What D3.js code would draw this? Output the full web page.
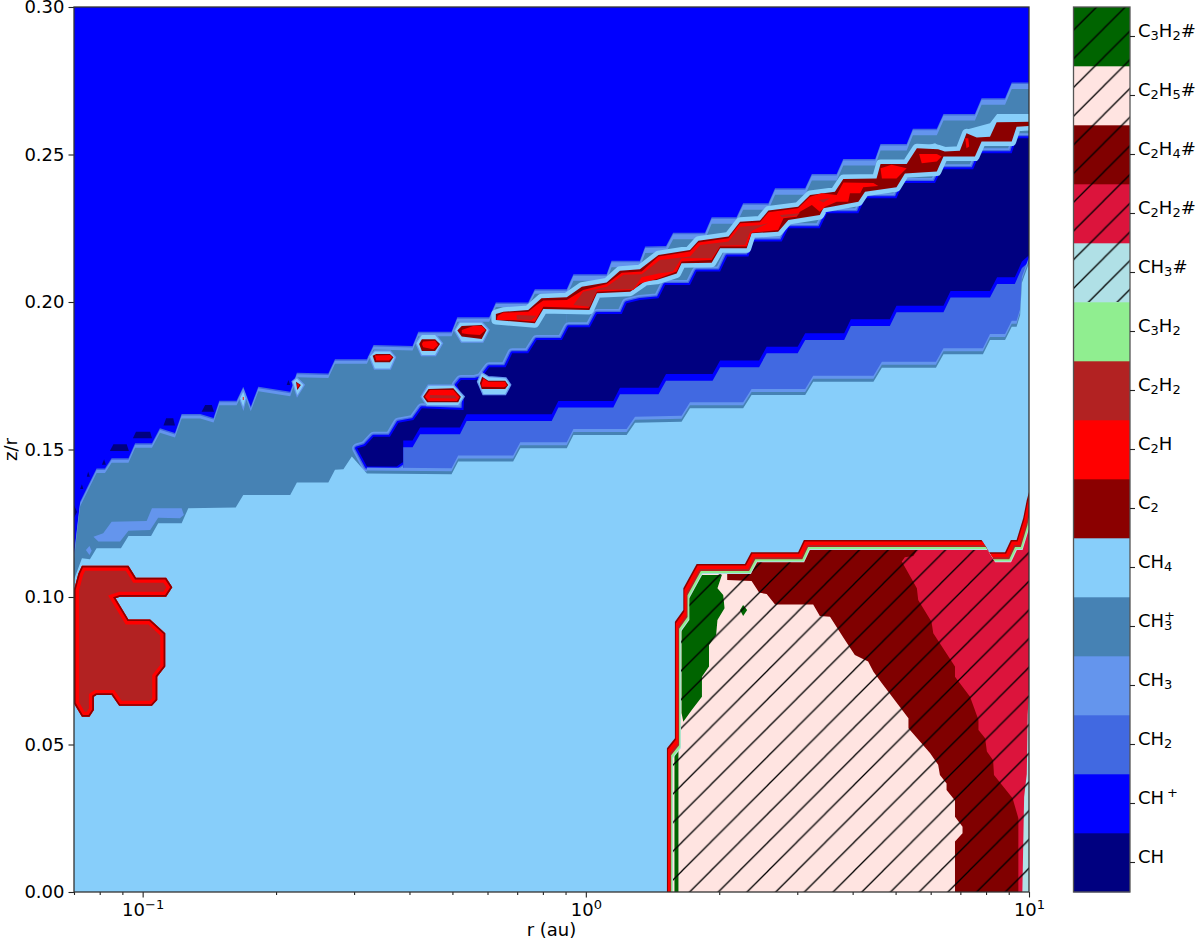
<!DOCTYPE html>
<html>
<head>
<meta charset="utf-8">
<script src="https://cdnjs.cloudflare.com/ajax/libs/d3/7.8.5/d3.min.js"></script>
<style>
body{margin:0;background:#fff;}
text{font-family:"DejaVu Sans",sans-serif;fill:#000;}
</style>
</head>
<body>
<div id="viz"></div>
<script>
// colorbar, bottom to top
var species=["CH","CH+","CH2","CH3","CH3+","CH4","C2","C2H","C2H2","C3H2","CH3#","C2H2#","C2H4#","C2H5#","C3H2#"];
var speciesColors=["#000080","#0000ff","#4169e1","#6495ed","#4682b4","#87cefa","#8b0000","#ff0000","#b22222","#90ee90","#b0e0e6","#dc143c","#800000","#ffe4e1","#006400"];
var xMajor=[0.1,1,10];
var xMinor=[0.07,0.08,0.09,0.2,0.3,0.4,0.5,0.6,0.7,0.8,0.9,2,3,4,5,6,7,8,9];
var yTicks=[0,0.05,0.1,0.15,0.2,0.25,0.3];

// all outlines are [log10 r, z/r]
var steelTop=[[-1.155,.1142],[-1.146,.1261],[-1.141,.1323],[-1.104,.1436],[-1.085,.1436],[-1.070,.1470],[-1.032,.1470],[-1.017,.1521],[-.979,.1521],[-.961,.1572],[-.927,.1556],[-.912,.1620],[-.870,.1620],[-.840,.1607],[-.827,.1665],[-.788,.1665],[-.773,.1713],[-.756,.1645],[-.739,.1713],[-.667,.1696],[-.652,.1760],[-.581,.1758],[-.566,.1806],[-.494,.1806],[-.479,.1854],[-.391,.1851],[-.378,.1899],[-.303,.1899],[-.290,.1948],[-.218,.1948],[-.203,.1998],[-.130,.1998],[-.115,.2043],[-.043,.2043],[-.028,.2094],[.047,.2094],[.058,.2140],[.122,.2140],[.134,.2188],[.181,.2190],[.197,.2235],[.269,.2235],[.284,.2287],[.340,.2287],[.355,.2335],[.412,.2335],[.427,.2386],[.495,.2386],[.510,.2434],[.566,.2434],[.581,.2485],[.653,.2485],[.665,.2536],[.724,.2536],[.738,.2587],[.792,.2587],[.807,.2637],[.878,.2637],[.893,.2691],[.946,.2691],[.961,.2744],[1,.2744]];

var ch4Top=[[-1.155,.1058],[-1.137,.1131],[-1.119,.1128],[-1.104,.1165],[-1.049,.1165],[-1.032,.1207],[-.981,.1207],[-.965,.1250],[-.912,.1250],[-.897,.1301],[-.790,.1303],[-.773,.1346],[-.667,.1346],[-.652,.1388],[-.581,.1388],[-.566,.1431],[-.547,.1433],[-.528,.1476],[-.494,.1419],[-.303,.1416],[-.288,.1459],[-.164,.1459],[-.148,.1504],[-.043,.1504],[-.028,.1549],[.092,.1549],[.111,.1591],[.216,.1594],[.235,.1640],[.355,.1640],[.374,.1685],[.495,.1685],[.513,.1730],[.649,.1730],[.668,.1777],[.790,.1777],[.807,.1823],[.896,.1823],[.912,.1871],[.946,.1871],[.961,.1916],[.972,.1916],[.980,.1956],[.984,.2065],[1,.2132]];

var navyArea=[[-.516,.1504],[-.498,.1512],[-.479,.1543],[-.442,.1543],[-.423,.1591],[-.389,.1600],[-.370,.1640],[-.276,.1634],[-.275,.1668],[-.291,.1719],[-.282,.1736],[-.250,.1736],[-.236,.1742],[-.224,.1767],[-.218,.1779],[-.181,.1779],[-.166,.1826],[-.130,.1826],[-.111,.1871],[-.054,.1871],[-.039,.1914],[.009,.1914],[.025,.1959],[.081,.1959],[.092,.1996],[.122,.2007],[.164,.2013],[.179,.2058],[.235,.2058],[.250,.2103],[.303,.2103],[.319,.2154],[.367,.2154],[.378,.2205],[.442,.2205],[.457,.2250],[.528,.2250],[.544,.2301],[.615,.2301],[.630,.2352],[.701,.2352],[.716,.2403],[.788,.2403],[.803,.2450],[.874,.2450],[.889,.2504],[.961,.2504],[.972,.2555],[1,.2555],[1,.2041],[-.410,.1458],[-.415,.1455],[-.427,.1442],[-.494,.1442]];

var royalTop=[[-.412,.1508],[-.391,.1508],[-.374,.1552],[-.284,.1552],[-.269,.1597],[-.077,.1597],[-.062,.1642],[.062,.1642],[.077,.1687],[.164,.1687],[.181,.1733],[.286,.1733],[.303,.1779],[.391,.1779],[.408,.1826],[.478,.1826],[.495,.1871],[.583,.1871],[.598,.1919],[.686,.1919],[.701,.1965],[.807,.1965],[.823,.2015],[.912,.2015],[.928,.2061],[.968,.2061],[.984,.2115],[1,.2136]];

var cornflowerSpots=[
 [[-1.111,.1204],[-1.089,.1216],[-1.070,.1255],[-.991,.1258],[-.979,.1301],[-.912,.1301],[-.907,.1278],[-.916,.1267],[-.965,.1269],[-.983,.1227],[-1.032,.1225],[-1.051,.1188],[-1.100,.1188]],
 [[-1.128,.1159],[-1.120,.1173],[-1.115,.1157],[-1.120,.1142]]
];
var navySpots=[
 [[-1.074,.1495],[-1.066,.1518],[-1.036,.1518],[-1.031,.1495]],
 [[-1.022,.1538],[-1.015,.1560],[-.983,.1560],[-.979,.1538]],
 [[-.953,.1581],[-.947,.1606],[-.931,.1606],[-.927,.1581]],
 [[-.867,.1628],[-.859,.1651],[-.844,.1651],[-.839,.1628]],
 [[-1.092,.1448],[-1.087,.1467],[-1.083,.1448]],
 [[-1.126,.1408],[-1.123,.1425],[-1.119,.1408]],
 [[-1.141,.1366],[-1.137,.1382],[-1.134,.1366]],
 [[-.675,.1719],[-.671,.1736],[-.667,.1719]],
 [[-1.155,.1268],[-1.155,.1312],[-1.148,.1288]]
];

// little C2/C2H pockets along the ridge: light edge, dark edge, core
var pocketsLight=[
 [[-.780,.1674],[-.773,.1696],[-.768,.1674],[-.773,.1645]],
 [[-.661,.1730],[-.652,.1741],[-.637,.1719],[-.651,.1685]],
 [[-.487,.1815],[-.476,.1832],[-.442,.1832],[-.431,.1813],[-.442,.1775],[-.476,.1775]],
 [[-.382,.1860],[-.370,.1888],[-.340,.1888],[-.325,.1860],[-.340,.1820],[-.370,.1820]],
 [[-.295,.1903],[-.284,.1930],[-.235,.1930],[-.220,.1905],[-.233,.1866],[-.280,.1866]],
 [[-.370,.1679],[-.355,.1716],[-.299,.1716],[-.276,.1679],[-.288,.1651],[-.358,.1651]],
 [[-.243,.1730],[-.235,.1758],[-.220,.1745],[-.181,.1741],[-.171,.1719],[-.182,.1688],[-.231,.1688]]
];
var pocketsDark=[
 [[-.654,.1730],[-.643,.1719],[-.651,.1702]],
 [[-.481,.1818],[-.473,.1824],[-.442,.1824],[-.434,.1813],[-.442,.1796],[-.476,.1796]],
 [[-.376,.1858],[-.370,.1874],[-.340,.1874],[-.329,.1858],[-.340,.1834],[-.370,.1834]],
 [[-.290,.1903],[-.280,.1919],[-.235,.1922],[-.224,.1905],[-.235,.1875],[-.280,.1883]],
 [[-.367,.1679],[-.355,.1705],[-.299,.1708],[-.282,.1679],[-.288,.1660],[-.358,.1660]],
 [[-.239,.1725],[-.234,.1747],[-.220,.1733],[-.182,.1733],[-.175,.1719],[-.182,.1705],[-.235,.1705]]
];
var pocketsRed=[
 [[-.774,.1678],[-.772,.1678],[-.772,.1668],[-.774,.1668]],
 [[-.651,.1725],[-.646,.1719],[-.651,.1708]],
 [[-.476,.1819],[-.442,.1820],[-.437,.1813],[-.444,.1802],[-.473,.1802]],
 [[-.370,.1858],[-.367,.1866],[-.340,.1869],[-.333,.1854],[-.344,.1840],[-.367,.1847]],
 [[-.280,.1905],[-.254,.1919],[-.235,.1919],[-.226,.1905],[-.239,.1888],[-.265,.1891],[-.280,.1894]],
 [[-.363,.1679],[-.352,.1702],[-.299,.1702],[-.285,.1677],[-.291,.1664],[-.355,.1664]],
 [[-.235,.1725],[-.231,.1741],[-.220,.1730],[-.182,.1730],[-.178,.1716],[-.185,.1711],[-.235,.1713]]
];
var pocketCore=[[-.352,.1685],[-.295,.1683],[-.291,.1673],[-.352,.1675]];

var leftPocket=[[-1.155,.1024],[-1.145,.1080],[-1.137,.1106],[-1.032,.1106],[-1.015,.1065],[-.947,.1065],[-.933,.1033],[-.947,.1001],[-1.051,.1001],[-1.061,.0996],[-1.032,.0924],[-.983,.0924],[-.949,.0877],[-.949,.0764],[-.967,.0730],[-.967,.0651],[-.979,.0631],[-1.053,.0631],[-1.070,.0668],[-1.104,.0668],[-1.110,.0662],[-1.110,.0617],[-1.120,.0594],[-1.137,.0594],[-1.153,.0634],[-1.155,.0641]];

var ridgeDark=[[-.203,.1959],[-.186,.1967],[-.130,.1973],[-.100,.2013],[-.043,.2016],[-.009,.2052],[.047,.2066],[.077,.2106],[.122,.2111],[.164,.2159],[.235,.2176],[.254,.2208],[.322,.2222],[.348,.2272],[.393,.2276],[.412,.2310],[.479,.2323],[.506,.2363],[.562,.2374],[.581,.2417],[.656,.2419],[.665,.2468],[.724,.2468],[.747,.2521],[.795,.2518],[.810,.2510],[.844,.2513],[.859,.2572],[.882,.2558],[.912,.2560],[.927,.2609],[1,.2611],[1,.2597],[.972,.2594],[.961,.2544],[.893,.2544],[.878,.2493],[.807,.2493],[.792,.2442],[.720,.2436],[.701,.2389],[.630,.2374],[.615,.2340],[.536,.2318],[.528,.2295],[.457,.2278],[.434,.2238],[.374,.2233],[.363,.2182],[.303,.2182],[.284,.2133],[.216,.2131],[.205,.2097],[.160,.2075],[.134,.2071],[.122,.2058],[.100,.2035],[.025,.2030],[.008,.1973],[-.096,.1976],[-.115,.1928],[-.203,.1939]];
var ridgeRed=[[-.199,.1953],[-.186,.1964],[-.130,.1967],[-.111,.1990],[-.096,.2005],[-.043,.2007],[-.006,.2041],[.047,.2061],[.081,.2099],[.126,.2103],[.164,.2154],[.235,.2171],[.254,.2202],[.322,.2216],[.348,.2267],[.393,.2270],[.412,.2304],[.479,.2318],[.506,.2357],[.532,.2369],[.566,.2363],[.581,.2405],[.649,.2403],[.660,.2393],[.626,.2389],[.619,.2369],[.596,.2369],[.592,.2340],[.566,.2340],[.540,.2323],[.528,.2306],[.510,.2329],[.483,.2306],[.476,.2289],[.446,.2284],[.434,.2244],[.374,.2235],[.363,.2188],[.303,.2188],[.284,.2142],[.216,.2137],[.205,.2103],[.164,.2080],[.122,.2063],[.107,.2041],[.025,.2035],[.006,.1979],[-.096,.1984],[-.115,.1933],[-.164,.1939],[-.201,.1939]];
var ridgeRedSpots=[
 [[.665,.2453],[.690,.2465],[.724,.2453],[.701,.2419],[.668,.2419]],
 [[.752,.2502],[.792,.2502],[.803,.2493],[.792,.2476],[.758,.2470]],
 [[.856,.2555],[.863,.2555],[.865,.2527],[.859,.2521]]
];
var ridgeBrown=[
 [[-.028,.1990],[-.006,.2035],[.047,.2052],[.085,.2092],[.126,.2094],[.167,.2142],[.235,.2154],[.258,.2193],[.322,.2205],[.348,.2255],[.393,.2261],[.412,.2267],[.378,.2244],[.370,.2235],[.359,.2193],[.303,.2191],[.284,.2148],[.216,.2148],[.197,.2103],[.164,.2097],[.126,.2084],[.107,.2043],[.025,.2041],[.009,.1984]],
 [[.438,.2295],[.483,.2301],[.476,.2293],[.442,.2287]],
 [[.525,.2346],[.551,.2352],[.536,.2337]],
 [[-.156,.1956],[-.111,.1953],[-.122,.1939],[-.156,.1941]]
];
var ridgeLight=[
 [[.844,.2515],[.856,.2583],[.912,.2606],[.928,.2637],[1,.2637],[1,.2607],[.927,.2607],[.912,.2558],[.878,.2558],[.859,.2572]],
 [[.747,.2521],[.788,.2538],[.807,.2521],[.844,.2521],[.844,.2509],[.747,.2509]]
];

// the hatched ice block, bottom right
var iceBlock=[[.183,0],[.183,.0487],[.201,.0521],[.201,.0916],[.220,.0956],[.220,.1030],[.250,.1112],[.359,.1112],[.373,.1152],[.479,.1152],[.492,.1193],[.893,.1193],[.910,.1152],[.946,.1152],[.959,.1193],[.972,.1193],[.987,.1268],[.995,.1329],[1,.1356],[1,0]];
var crimsonIce=[[.698,.1193],[1,.1363],[1,0],[.901,0],[.777,.0719],[.709,.0990]];
var maroonIce=[[.319,.1092],[.337,.1176],[.747,.1176],[.747,.1159],[.739,.1139],[.720,.1135],[.713,.1120],[.747,.1030],[.750,.0990],[.780,.0916],[.784,.0877],[.833,.0764],[.833,.0730],[.867,.0662],[.886,.0583],[.886,.0549],[.901,.0521],[.905,.0476],[.919,.0447],[.921,.0397],[.963,.0318],[.976,.0250],[.976,0],[.833,0],[.833,.0171],[.850,.0199],[.850,.0221],[.833,.0255],[.833,.0310],[.814,.0346],[.814,.0368],[.799,.0397],[.795,.0431],[.777,.0470],[.728,.0555],[.728,.0589],[.668,.0708],[.649,.0747],[.637,.0781],[.607,.0803],[.581,.0863],[.551,.0933],[.528,.0936],[.513,.0975],[.427,.0975],[.408,.1010],[.391,.1015],[.374,.1054],[.319,.1058]];
var greenIce=[
 [[.250,.1075],[.307,.1075],[.297,.1030],[.310,.1007],[.313,.0962],[.297,.0922],[.294,.0871],[.278,.0837],[.278,.0764],[.262,.0730],[.262,.0662],[.239,.0617],[.220,.0577],[.216,.0607],[.216,.0888],[.231,.0945],[.235,.1041]],
 [[.348,.0956],[.355,.0973],[.364,.0956],[.355,.0936]],
 [[.200,.0487],[.209,.0487],[.209,0],[.200,0]]
];
var paleIce=[[1,.0685],[.997,.0600],[.995,.0400],[.989,.0322],[.985,0],[1,0]];

var svg=d3.select("#viz").append("svg").attr("width",1200).attr("height",942).style("display","block");
var defs=svg.append("defs");

var x=d3.scaleLog().domain([0.07,10]).range([74,1029]);
var y=d3.scaleLinear().domain([0,0.3]).range([892,7]);
var color=d3.scaleOrdinal().domain(species).range(speciesColors);

var line=d3.line().x(function(d){return x(Math.pow(10,d[0]));}).y(function(d){return y(d[1]);});
var area=d3.area().x(function(d){return x(Math.pow(10,d[0]));}).y0(y(0)).y1(function(d){return y(d[1]);});
function closed(d){return line(d)+"Z";}

defs.append("clipPath").attr("id","plotClip").append("rect").attr("x",74).attr("y",7).attr("width",955).attr("height",885);

// matplotlib style "/" hatch
function hatchPattern(id,shift){
  var s=28.7;
  var p=defs.append("pattern").attr("id",id).attr("patternUnits","userSpaceOnUse")
    .attr("width",s).attr("height",s).attr("patternTransform","translate("+shift+",0)");
  p.append("path").attr("d","M-4,"+(s+4)+"L"+(s+4)+",-4M-4,4L4,-4M"+(s-4)+","+(s+4)+"L"+(s+4)+","+(s-4))
    .attr("stroke","#000").attr("stroke-width",1.3).attr("fill","none");
}
hatchPattern("hatch",15.8);
hatchPattern("hatchBar",13);

var plot=svg.append("g").attr("clip-path","url(#plotClip)");
plot.append("rect").attr("x",74).attr("y",7).attr("width",955).attr("height",885).attr("fill",color("CH+"));

function shape(parent,d,fill,dx,dy){
  return parent.append("path").attr("d",closed(d)).attr("fill",fill)
    .attr("transform","translate("+(dx||0)+","+(dy||0)+")");
}
function band(d,fill,dy){
  return plot.append("path").attr("d",area(d)).attr("fill",fill).attr("transform","translate(0,"+(dy||0)+")");
}

// CH3+ ridge with its thin contour strips, the strip gets wider towards large r
band(steelTop,color("CH2"),0);
band(steelTop,color("CH3"),1.5);
band(steelTop.filter(function(d){return d[0]<=-0.043;}),color("CH3+"),4.5);
band(steelTop.filter(function(d){return d[0]>=-0.043;}),color("CH3+"),6.5);
cornflowerSpots.forEach(function(d){shape(plot,d,color("CH3"));});
navySpots.forEach(function(d){shape(plot,d,color("CH"));});

// CH wedge: outline strips then the fill
[["CH3",10],["CH2",6.5],["CH+",4]].forEach(function(s){
  plot.append("path").attr("d",closed(navyArea)).attr("fill","none").attr("stroke",color(s[0]))
    .attr("stroke-width",s[1]).attr("stroke-linejoin","round");
});
shape(plot,navyArea,color("CH"));

// CH2 band
band(royalTop,color("CH+"),-6.7);
band(royalTop,color("CH2"),0);

// CH4 background with the strips on its right part
var ch4Right=ch4Top.filter(function(d){return d[0]>=-0.494;});
band(ch4Right,color("CH3"),-6);
band(ch4Right,color("CH3+"),-3);
band(ch4Top,color("CH4"),0);

// C2H2 pocket at small r
defs.append("clipPath").attr("id","leftClip").append("path").attr("d",closed(leftPocket));
var leftG=plot.append("g").attr("clip-path","url(#leftClip)");
shape(leftG,leftPocket,color("C2H2"));
leftG.append("path").attr("d",closed(leftPocket)).attr("fill","none").attr("stroke",color("C2H")).attr("stroke-width",10);
leftG.append("path").attr("d",closed(leftPocket)).attr("fill","none").attr("stroke",color("C2")).attr("stroke-width",3.4);

// pockets on the ridge
pocketsLight.forEach(function(d){
  shape(plot,d,color("CH4")).attr("stroke",color("CH3")).attr("stroke-width",2.5).attr("paint-order","stroke");
});
pocketsDark.forEach(function(d){shape(plot,d,color("C2"));});
pocketsRed.forEach(function(d){shape(plot,d,color("C2H"));});
shape(plot,pocketCore,color("C2H2"));

// main red ribbon
ridgeLight.forEach(function(d){shape(plot,d,color("CH4"));});
shape(plot,ridgeDark,color("C2")).attr("stroke",color("CH4")).attr("stroke-width",9)
  .attr("stroke-linejoin","round").attr("paint-order","stroke");
shape(plot,ridgeRed,color("C2H"));
ridgeRedSpots.forEach(function(d){shape(plot,d,color("C2H"));});
ridgeBrown.forEach(function(d){shape(plot,d,color("C2H2"));});

// ice block: contour strips are the same outline stepped inwards
var stripSteps=[["C2",0,0],["C2H",1,1.5],["C2H2",3.2,5],["C3H2",4.2,7],["CH3#",5.4,9]];
stripSteps.forEach(function(s){shape(plot,iceBlock,color(s[0]),s[1],s[2]);});
var innerDx=6,innerDy=10;
defs.append("clipPath").attr("id","iceClip").append("path").attr("d",closed(iceBlock))
  .attr("transform","translate("+innerDx+","+innerDy+")");
var ice=plot.append("g").attr("clip-path","url(#iceClip)");
shape(ice,iceBlock,color("C2H5#"),-10,0);
shape(ice,crimsonIce,color("C2H2#"));
shape(ice,maroonIce,color("C2H4#"));
greenIce.forEach(function(d){shape(ice,d,color("C3H2#"));});
shape(ice,paleIce,color("CH3#"));
shape(ice,iceBlock,"url(#hatch)",innerDx,innerDy);

// axes
var xAxis=svg.append("g").attr("transform","translate(0,892)")
  .call(d3.axisBottom(x).tickValues(xMajor).tickSize(5.5).tickPadding(6).tickFormat(""));
var xMinorAxis=svg.append("g").attr("transform","translate(0,892)")
  .call(d3.axisBottom(x).tickValues(xMinor).tickSize(3).tickFormat(""));
xAxis.selectAll(".tick text").each(function(d){
  var t=d3.select(this).attr("font-size",18).attr("y",null).attr("dy",null)
    .attr("transform","translate(0,24)").attr("text-anchor","middle");
  t.append("tspan").text("10");
  t.append("tspan").attr("font-size",13).attr("dy",-7).text(String(Math.round(Math.log10(d))).replace("-","\u2212"));
});
var yAxis=svg.append("g").attr("transform","translate(74,0)")
  .call(d3.axisLeft(y).tickValues(yTicks).tickSize(5.5).tickPadding(4).tickFormat(d3.format(".2f")));
yAxis.selectAll(".tick text").attr("font-size",18);
[xAxis,xMinorAxis,yAxis].forEach(function(a){
  a.select(".domain").remove();
  a.selectAll(".tick line").attr("stroke","#222").attr("stroke-width",1.1);
});
svg.append("rect").attr("x",74).attr("y",7).attr("width",955).attr("height",885)
  .attr("fill","none").attr("stroke","#333").attr("stroke-width",1.3);

svg.append("text").attr("x",551.5).attr("y",936).attr("text-anchor","middle").attr("font-size",18).text("r (au)");
svg.append("text").attr("transform","translate(16.8,449.5) rotate(-90)").attr("text-anchor","middle").attr("font-size",18).text("z/r");

// colorbar
var barX=1073.5,barW=56.5;
var barY=d3.scaleBand().domain(species).range([892,7]);
var bar=svg.append("g");
bar.selectAll("rect.cell").data(species).enter().append("rect").attr("class","cell")
  .attr("x",barX).attr("width",barW)
  .attr("y",function(d){return barY(d);}).attr("height",barY.bandwidth()+0.3)
  .attr("fill",function(d){return color(d);});
bar.selectAll("rect.hatchCell").data(species.filter(function(d){return d.indexOf("#")>=0;})).enter().append("rect").attr("class","hatchCell")
  .attr("x",barX).attr("width",barW)
  .attr("y",function(d){return barY(d);}).attr("height",barY.bandwidth())
  .attr("fill","url(#hatchBar)");
bar.append("rect").attr("x",barX).attr("y",7).attr("width",barW).attr("height",885)
  .attr("fill","none").attr("stroke","#555").attr("stroke-width",1.3);
var barAxis=svg.append("g").attr("transform","translate("+(barX+barW)+",0)")
  .call(d3.axisRight(barY).tickSize(5).tickPadding(3).tickFormat(""));
barAxis.select(".domain").remove();
barAxis.selectAll(".tick line").attr("stroke","#222").attr("stroke-width",1.1);
barAxis.selectAll(".tick text").each(function(d){
  var t=d3.select(this).attr("font-size",18).attr("dy","0.36em");
  var parts=d.match(/\d|\+|[^\d+]+/g);
  var base=0;
  parts.forEach(function(p,i){
    var s=t.append("tspan");
    var target=0;
    var dxv=0;
    if(/\d/.test(p)){target=3.5;s.attr("font-size",13);}
    else if(p=="+"){target=-7;s.attr("font-size",13);dxv=/\d/.test(parts[i-1])?-8.3:3;}
    s.attr("dy",target-base);
    if(dxv)s.attr("dx",dxv);
    base=target;
    s.text(p);
  });
});
</script>
</body>
</html>
